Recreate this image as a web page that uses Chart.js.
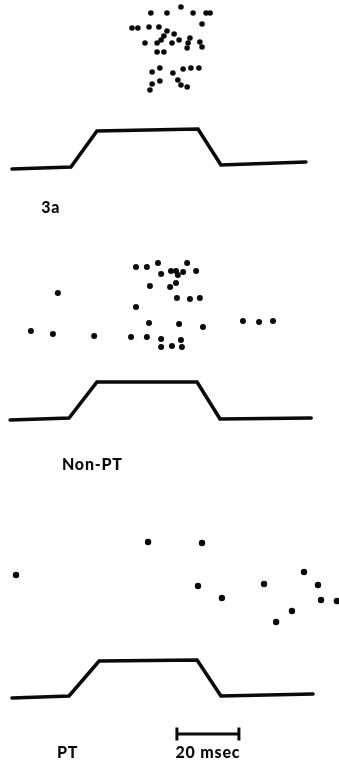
<!DOCTYPE html>
<html>
<head>
<meta charset="utf-8">
<script src="https://cdn.jsdelivr.net/npm/chart.js@4/dist/chart.umd.min.js"></script>
<style>
html,body{margin:0;padding:0;background:#fff;}
#wrap{width:339px;height:766px;}
</style>
</head>
<body>
<div id="wrap"><canvas id="c" width="339" height="766"></canvas></div>
<script>
// time in msec from trace start; vertical position = row position on the figure (0 = top)
const raster3aTime = [44.8,50.0,54.5,58.4,62.6,63.9,38.7,40.6,44.2,47.4,61.3,50.0,52.3,49.0,48.1,53.9,57.4,42.9,46.8,51.6,56.8,60.6,56.5,61.3,46.8,49.0,45.2,47.7,51.9,55.2,57.7,60.3,53.5,47.7,45.2,44.5,54.5,56.5];
const raster3aRow  = [13,13,7,13,13,13,28,28,27,27,24,31,34,36,40,40,38,43,43,43,43,42,48,47,52,52,72,68,73,69,68,68,80,81,84,90,85,87];

const rasterNonPTTime = [40.0,43.5,47.1,56.5,48.1,51.3,52.9,53.5,55.2,59.4,44.5,51.0,52.9,53.2,57.4,60.6,40.0,44.2,53.9,61.6,38.4,43.5,48.1,54.5,48.1,51.6,54.8,14.8,74.5,79.7,84.2,6.1,13.2,26.5];
const rasterNonPTRow  = [267,267,263,263,274,271,271,275,272,271,286,287,283,298,299,298,307,323,324,327,337,337,339,340,347,346,347,293,321,322,321,331,334,336];

const rasterPTTime = [1.3,43.9,61.3,60.0,67.7,81.3,94.2,98.7,99.7,104.8,90.3,85.2];
const rasterPTRow  = [575,542,543,586,598,584,572,585,600,601,611,622];

const trace3aTime = [0,19.0,27.4,60.0,67.4,94.8];
const trace3aRow  = [169,167,131,129,165,162];
const traceNonPTTime = [-0.6,18.4,27.4,59.7,67.1,96.5];
const traceNonPTRow  = [420,418,382,382,419,418];
const tracePTTime = [0,18.4,28.1,59.7,67.4,97.1];
const tracePTRow  = [698,696,661,660,696,694];

const scaleBarTime = [53.2,73.2];
const scaleBarRow = [734,734];

const labels = [
  {text:'3a', t:9.4, row:208, align:'left'},
  {text:'Non-PT', t:16.1, row:465, align:'left'},
  {text:'PT', t:14.5, row:753, align:'left'},
  {text:'20 msec', t:63.2, row:753, align:'center'}
];

const zip = (xs, ys) => xs.map((x,i)=>({x:x, y:ys[i]}));
const INK = '#0a0a0a';

function rasterDs(xs, ys, r){
  return {type:'scatter', data:zip(xs,ys), pointRadius:r, pointHoverRadius:r,
    backgroundColor:INK, borderColor:INK, borderWidth:0, showLine:false, clip:false};
}
function traceDs(xs, ys){
  return {type:'scatter', data:zip(xs,ys), showLine:true, pointRadius:0, borderColor:INK,
    borderWidth:3.6, borderCapStyle:'round', borderJoinStyle:'miter', fill:false, clip:false, tension:0};
}

const labelPlugin = {
  id:'labels',
  afterDatasetsDraw(chart){
    const ctx = chart.ctx, xs = chart.scales.x, ys = chart.scales.y;
    ctx.save();
    ctx.fillStyle = INK;
    ctx.textBaseline = 'middle';
    ctx.font = '900 16px Lato, "Open Sans", sans-serif';
    if ('letterSpacing' in ctx) ctx.letterSpacing = '0.8px';
    labels.forEach(l=>{
      ctx.textAlign = l.align;
      ctx.fillText(l.text, xs.getPixelForValue(l.t), ys.getPixelForValue(l.row));
    });
    ctx.restore();
  }
};

new Chart(document.getElementById('c'), {
  type:'scatter',
  data:{datasets:[
    rasterDs(raster3aTime, raster3aRow, 2.8),
    rasterDs(rasterNonPTTime, rasterNonPTRow, 3.0),
    rasterDs(rasterPTTime, rasterPTRow, 3.2),
    traceDs(trace3aTime, trace3aRow),
    traceDs(traceNonPTTime, traceNonPTRow),
    traceDs(tracePTTime, tracePTRow),
    {type:'scatter', data:zip(scaleBarTime, scaleBarRow), showLine:true, borderColor:INK, borderWidth:3,
     pointStyle:'line', pointRotation:90, pointRadius:6.5, pointBorderWidth:3, pointBorderColor:INK, clip:false}
  ]},
  options:{
    responsive:false, animation:false, devicePixelRatio:1,
    layout:{padding:0, autoPadding:false},
    plugins:{legend:{display:false}, tooltip:{enabled:false}},
    events:[],
    scales:{
      x:{type:'linear', min:-12/3.1, max:327/3.1, display:false},
      y:{type:'linear', min:0, max:766, reverse:true, display:false}
    }
  },
  plugins:[labelPlugin]
});
</script>
</body>
</html>
